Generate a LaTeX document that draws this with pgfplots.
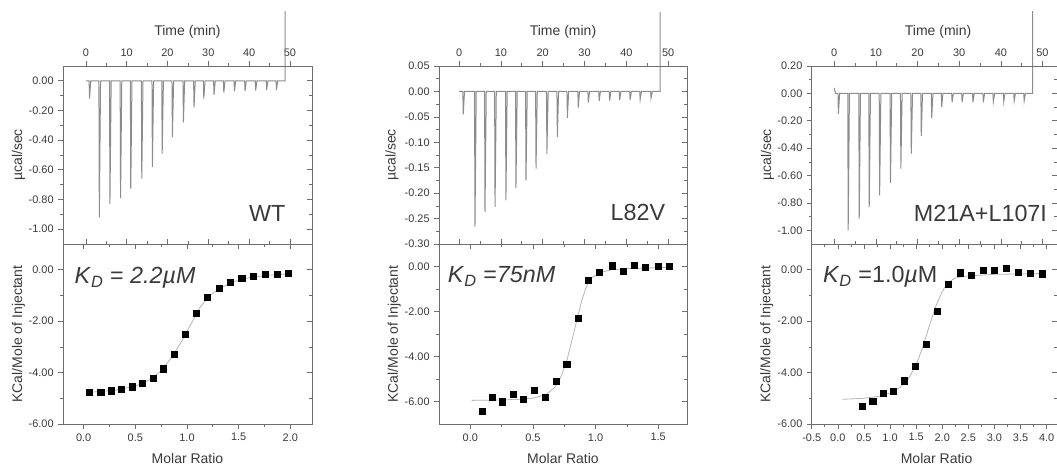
\documentclass[border=0pt]{standalone}
\usepackage{fontspec}
\setmainfont{Liberation Sans}
\usepackage{pgfplots}
\pgfplotsset{compat=1.18}

\definecolor{axcol}{HTML}{6E6E6E}
\definecolor{txtcol}{HTML}{3A3A3A}
\definecolor{rawcol}{HTML}{8C8C8C}
\definecolor{fitcol}{HTML}{B4B4B4}

\tikzset{bigtxt/.style={font=\fontsize{17.5}{20}\selectfont, text=txtcol}}

\pgfplotsset{
  itc/.style={scale only axis, anchor=north west, clip=false,
    axis line style={axcol, line width=0.6pt},
    every tick/.append style={axcol, line width=0.5pt},
    major tick length=3.5pt, minor tick length=2pt,
    minor x tick num=1, minor y tick num=1,
    tick label style={font=\fontsize{8.2}{9}\selectfont, text=txtcol},
    label style={font=\fontsize{10.5}{12}\selectfont, text=txtcol},
    /pgf/number format/assume math mode=true,
    yticklabel style={/pgf/number format/.cd, fixed, fixed zerofill, precision=2}},
  % raw heat panels (top row)
  rawmain/.style={itc, height=133.5pt, tick align=outside,
    xtick pos=right, xticklabel pos=right, ytick pos=left,
    xtick={0,10,...,50}, xlabel={Time (min)}, ylabel={µcal/sec},
    xlabel style={at={(axis description cs:0.5,1.19)}, anchor=center}},
  rawmirror/.style={itc, height=133.5pt, tick align=inside,
    xtick pos=left, ytick pos=right, xtick={0,10,...,50},
    xticklabels={}, yticklabels={}},
  % integrated heat panels (bottom row)
  fitmain/.style={itc, height=135pt, tick align=outside,
    xtick pos=left, ytick pos=left, ytick={0,-2,-4,-6},
    xlabel={Molar Ratio}, ylabel={KCal/Mole of Injectant},
    xticklabel style={/pgf/number format/.cd, fixed, fixed zerofill, precision=1},
    xlabel style={at={(axis description cs:0.5,-0.19)}, anchor=center}},
  fitmirror/.style={itc, height=135pt, tick align=inside,
    xtick pos=right, ytick pos=right, ytick={0,-2,-4,-6},
    xticklabels={}, yticklabels={}},
  rawline/.style={rawcol, line width=0.75pt, no marks},
  fitline/.style={fitcol, line width=0.6pt, no marks},
  pts/.style={only marks, mark=square*, mark size=2.3pt, black},
}

\begin{document}
\begin{tikzpicture}
\useasboundingbox (0,0) rectangle (792.75pt,-349.5pt);

% ---------------- WT ----------------
\begin{axis}[rawmain, at={(47.25pt,-49.5pt)}, width=186.75pt,
  xmin=-5.6, xmax=55.4, ymin=-1.1, ymax=0.1,
  ytick={0,-0.2,-0.4,-0.6,-0.8,-1},
  ylabel style={at={(axis description cs:-0.179,0.5)}, anchor=center}]
\addplot[rawline] coordinates {
  (0,0)
  (0.8,0)(0.9,-0.12)(1.2,0)
  (3.2,0)(3.3,-0.92)(3.6,0)
  (5.8,0)(5.9,-0.83)(6.2,0)
  (8.4,0)(8.5,-0.79)(8.8,0)
  (10.9,0)(11.0,-0.73)(11.3,0)
  (13.6,0)(13.7,-0.66)(14.0,0)
  (16.2,0)(16.3,-0.58)(16.6,0)
  (18.6,0)(18.7,-0.49)(19.0,0)
  (21.1,0)(21.2,-0.38)(21.5,0)
  (23.8,0)(23.9,-0.28)(24.2,0)
  (26.4,0)(26.5,-0.18)(26.8,0)
  (28.8,0)(28.9,-0.12)(29.2,0)
  (31.3,0)(31.4,-0.095)(31.7,0)
  (33.7,0)(33.8,-0.08)(34.1,0)
  (36.3,0)(36.4,-0.07)(36.7,0)
  (38.9,0)(39.0,-0.07)(39.3,0)
  (41.5,0)(41.6,-0.065)(41.9,0)
  (44.2,0)(44.3,-0.06)(44.6,0)
  (46.6,0)(46.7,-0.06)(47.0,0)
  (48.8,0)(48.8,0.47)};
\node[bigtxt, anchor=base east] at (axis description cs:0.912,0.124) {WT};
\end{axis}
\begin{axis}[rawmirror, at={(47.25pt,-49.5pt)}, width=186.75pt,
  xmin=-5.6, xmax=55.4, ymin=-1.1, ymax=0.1,
  ytick={0,-0.2,-0.4,-0.6,-0.8,-1}]
\end{axis}

\begin{axis}[fitmain, at={(47.25pt,-183pt)}, width=186.75pt,
  xmin=-0.2, xmax=2.21, ymin=-6, ymax=1, xtick={0,0.5,1,1.5,2},
  ylabel style={at={(axis description cs:-0.179,0.5)}, anchor=center}]
\addplot[fitline] coordinates {(0.05,-4.77)(0.3,-4.69)(0.5,-4.53)(0.65,-4.26)
  (0.75,-3.92)(0.85,-3.42)(0.95,-2.78)(1.05,-2.03)(1.12,-1.5)(1.2,-1.08)
  (1.3,-0.76)(1.45,-0.47)(1.6,-0.31)(1.8,-0.21)(2.0,-0.16)};
\addplot[pts] coordinates {(0.058,-4.75)(0.165,-4.75)(0.27,-4.71)(0.366,-4.64)
  (0.47,-4.55)(0.57,-4.42)(0.67,-4.21)(0.77,-3.85)(0.877,-3.28)(0.987,-2.50)
  (1.094,-1.70)(1.197,-1.08)(1.31,-0.71)(1.417,-0.48)(1.53,-0.32)(1.645,-0.25)
  (1.757,-0.19)(1.87,-0.17)(1.98,-0.13)};
\node[bigtxt, anchor=base west] at (axis description cs:0.028,0.78)
  {\textit{K}\textsubscript{\textit{D}} = \textit{2.2µM}};
\end{axis}
\begin{axis}[fitmirror, at={(47.25pt,-183pt)}, width=186.75pt,
  xmin=-0.2, xmax=2.21, ymin=-6, ymax=1, xtick={0,0.5,1,1.5,2}]
\end{axis}

% ---------------- L82V ----------------
\begin{axis}[rawmain, at={(329.25pt,-49.5pt)}, width=186pt,
  xmin=-4.8, xmax=54.5, ymin=-0.3, ymax=0.05,
  ytick={0.05,0,-0.05,-0.1,-0.15,-0.2,-0.25,-0.3},
  ylabel style={at={(axis description cs:-0.19,0.5)}, anchor=center}]
\addplot[rawline] coordinates {
  (0,0)
  (0.9,0)(1.0,-0.045)(1.3,0)
  (3.7,0)(3.8,-0.266)(4.1,0)
  (6.1,0)(6.2,-0.237)(6.5,0)
  (8.5,0)(8.6,-0.227)(8.9,0)
  (11.1,0)(11.2,-0.214)(11.5,0)
  (13.5,0)(13.6,-0.19)(13.9,0)
  (15.9,0)(16.0,-0.175)(16.3,0)
  (18.3,0)(18.4,-0.152)(18.7,0)
  (20.9,0)(21.0,-0.123)(21.3,0)
  (23.4,0)(23.5,-0.09)(23.8,0)
  (25.8,0)(25.9,-0.052)(26.2,0)
  (28.4,0)(28.5,-0.032)(28.8,0)
  (30.8,0)(30.9,-0.022)(31.2,0)
  (33.4,0)(33.5,-0.019)(33.8,0)
  (35.9,0)(36.0,-0.018)(36.3,0)
  (38.3,0)(38.4,-0.017)(38.7,0)
  (40.8,0)(40.9,-0.017)(41.2,0)
  (43.2,0)(43.3,-0.016)(43.6,0)
  (45.8,0)(45.9,-0.013)(46.2,0)
  (48.1,0)(48.1,0.156)};
\node[bigtxt, anchor=base east] at (axis description cs:0.931,0.13) {L82V};
\end{axis}
\begin{axis}[rawmirror, at={(329.25pt,-49.5pt)}, width=186pt,
  xmin=-4.8, xmax=54.5, ymin=-0.3, ymax=0.05,
  ytick={0.05,0,-0.05,-0.1,-0.15,-0.2,-0.25,-0.3}]
\end{axis}

\begin{axis}[fitmain, at={(329.25pt,-183pt)}, width=186pt,
  xmin=-0.25, xmax=1.73, ymin=-7, ymax=1, xtick={0,0.5,1,1.5},
  ylabel style={at={(axis description cs:-0.18,0.5)}, anchor=center}]
\addplot[fitline] coordinates {(0.01,-5.95)(0.2,-5.94)(0.4,-5.9)(0.5,-5.85)
  (0.6,-5.7)(0.67,-5.4)(0.72,-4.95)(0.77,-4.2)(0.81,-3.3)(0.85,-2.4)(0.89,-1.5)
  (0.93,-0.85)(0.97,-0.5)(1.03,-0.28)(1.12,-0.15)(1.3,-0.08)(1.6,-0.04)};
\addplot[pts] coordinates {(0.093,-6.43)(0.173,-5.83)(0.253,-6.01)(0.34,-5.68)
  (0.425,-5.92)(0.51,-5.49)(0.60,-5.83)(0.686,-5.12)(0.77,-4.35)(0.86,-2.29)
  (0.944,-0.625)(1.03,-0.27)(1.13,0.03)(1.22,-0.22)(1.31,0.045)(1.40,-0.04)
  (1.50,0.01)(1.59,0.01)};
\node[bigtxt, anchor=base west] at (axis description cs:0.017,0.785)
  {\textit{K}\textsubscript{\textit{D}} =\textit{75nM}};
\end{axis}
\begin{axis}[fitmirror, at={(329.25pt,-183pt)}, width=186pt,
  xmin=-0.25, xmax=1.73, ymin=-7, ymax=1, xtick={0,0.5,1,1.5}]
\end{axis}

% ---------------- M21A+L107I ----------------
\begin{axis}[rawmain, at={(608.8pt,-49.5pt)}, width=184pt,
  xmin=-5.4, xmax=53.5, ymin=-1.1, ymax=0.2,
  ytick={0.2,0,-0.2,-0.4,-0.6,-0.8,-1},
  xlabel style={at={(axis description cs:0.515,1.19)}},
  ylabel style={at={(axis description cs:-0.18,0.5)}, anchor=center}]
\addplot[rawline] coordinates {
  (0,0.04)(0.3,0)
  (0.9,0)(1.0,-0.15)(1.3,0)
  (3.25,0)(3.35,-1.0)(3.65,0)
  (5.9,0)(6.0,-0.915)(6.3,0)
  (8.3,0)(8.4,-0.83)(8.7,0)
  (10.8,0)(10.9,-0.745)(11.2,0)
  (13.4,0)(13.5,-0.655)(13.8,0)
  (15.9,0)(16.0,-0.55)(16.3,0)
  (18.4,0)(18.5,-0.44)(18.8,0)
  (20.8,0)(20.9,-0.31)(21.2,0)
  (23.3,0)(23.4,-0.18)(23.7,0)
  (25.7,0)(25.8,-0.10)(26.1,0)
  (28.2,0)(28.3,-0.065)(28.6,0)
  (30.6,0)(30.7,-0.065)(31.0,0)
  (33.2,0)(33.3,-0.065)(33.6,0)
  (35.7,0)(35.8,-0.065)(36.1,0)
  (38.1,0)(38.2,-0.06)(38.5,0)
  (40.6,0)(40.7,-0.06)(41.0,0)
  (43.1,0)(43.2,-0.055)(43.5,0)
  (45.5,0)(45.6,-0.055)(45.9,0)
  (47.6,0)(47.6,0.6)};
\node[bigtxt, anchor=base east] at (axis description cs:0.978,0.125) {M21A+L107I};
\end{axis}
\begin{axis}[rawmirror, at={(608.8pt,-49.5pt)}, width=184pt,
  xmin=-5.4, xmax=53.5, ymin=-1.1, ymax=0.2,
  ytick={0.2,0,-0.2,-0.4,-0.6,-0.8,-1}]
\end{axis}

\begin{axis}[fitmain, at={(608.8pt,-183pt)}, width=184pt,
  xmin=-0.5, xmax=4.2, ymin=-6, ymax=1,
  xtick={-0.5,0,0.5,1,1.5,2,2.5,3,3.5,4},
  xlabel style={at={(axis description cs:0.509,-0.19)}},
  ylabel style={at={(axis description cs:-0.183,0.5)}, anchor=center}]
\addplot[fitline] coordinates {(0.09,-5.04)(0.5,-5.0)(0.8,-4.92)(1.0,-4.8)
  (1.2,-4.57)(1.35,-4.25)(1.5,-3.7)(1.62,-3.05)(1.75,-2.2)(1.88,-1.4)(2.0,-0.85)
  (2.1,-0.52)(2.25,-0.32)(2.5,-0.24)(3.0,-0.18)(3.9,-0.15)};
\addplot[pts] coordinates {(0.47,-5.30)(0.67,-5.11)(0.87,-4.82)(1.07,-4.74)
  (1.28,-4.32)(1.49,-3.76)(1.70,-2.89)(1.91,-1.62)(2.12,-0.55)(2.35,-0.12)
  (2.56,-0.22)(2.78,-0.03)(3.00,-0.03)(3.23,0.04)(3.46,-0.09)(3.69,-0.13)
  (3.91,-0.16)};
\node[bigtxt, anchor=base west] at (axis description cs:0.027,0.785)
  {\textit{K}\textsubscript{\textit{D}} =1.0\textit{µ}M};
\end{axis}
\begin{axis}[fitmirror, at={(608.8pt,-183pt)}, width=184pt,
  xmin=-0.5, xmax=4.2, ymin=-6, ymax=1,
  xtick={-0.5,0,0.5,1,1.5,2,2.5,3,3.5,4}]
\end{axis}

\end{tikzpicture}
\end{document}
